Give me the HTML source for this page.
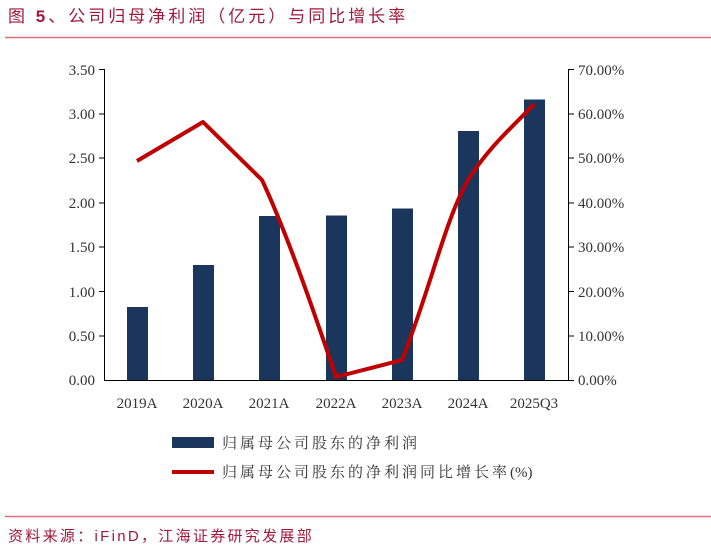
<!DOCTYPE html>
<html><head><meta charset="utf-8"><style>
body{margin:0;background:#fff;width:711px;height:553px;overflow:hidden}
</style></head><body>
<svg width="711" height="553" xmlns="http://www.w3.org/2000/svg" font-family="Liberation Serif, Noto Serif CJK SC, serif">
<text x="8" y="22" font-size="17" fill="#a0193a" letter-spacing="3" font-family="Liberation Sans, Noto Sans CJK SC, sans-serif">图 <tspan font-weight="bold">5</tspan>、公司归母净利润（亿元）与同比增长率</text>
<line x1="5" y1="37.5" x2="711" y2="37.5" stroke="#d9737d" stroke-width="1.5"/>
<g stroke="#000" stroke-width="1">
<line x1="104.5" y1="69" x2="104.5" y2="380"/>
<line x1="568.5" y1="69" x2="568.5" y2="380"/>
<line x1="104" y1="380.5" x2="569" y2="380.5"/>
</g>
<g stroke="#000">
<line x1="99" y1="69.5" x2="104" y2="69.5"/><line x1="99" y1="114" x2="104" y2="114"/><line x1="99" y1="158" x2="104" y2="158"/><line x1="99" y1="203" x2="104" y2="203"/><line x1="99" y1="247" x2="104" y2="247"/><line x1="99" y1="291.5" x2="104" y2="291.5"/><line x1="99" y1="336" x2="104" y2="336"/>
<line x1="569" y1="69.5" x2="574" y2="69.5"/><line x1="569" y1="114" x2="574" y2="114"/><line x1="569" y1="158" x2="574" y2="158"/><line x1="569" y1="203" x2="574" y2="203"/><line x1="569" y1="247" x2="574" y2="247"/><line x1="569" y1="291.5" x2="574" y2="291.5"/><line x1="569" y1="336" x2="574" y2="336"/><line x1="569" y1="380.5" x2="574" y2="380.5"/>
</g>
<g font-size="15" fill="#333" text-anchor="end">
<text x="95" y="75">3.50</text><text x="95" y="119">3.00</text><text x="95" y="163">2.50</text><text x="95" y="208">2.00</text><text x="95" y="252">1.50</text><text x="95" y="297">1.00</text><text x="95" y="341">0.50</text><text x="95" y="385">0.00</text>
</g>
<g font-size="15" fill="#333">
<text x="578" y="75">70.00%</text><text x="578" y="119">60.00%</text><text x="578" y="163">50.00%</text><text x="578" y="208">40.00%</text><text x="578" y="252">30.00%</text><text x="578" y="297">20.00%</text><text x="578" y="341">10.00%</text><text x="578" y="385">0.00%</text>
</g>
<g fill="#1b365d">
<rect x="127" y="307" width="21" height="73"/>
<rect x="193" y="265" width="21" height="115"/>
<rect x="259" y="216" width="21" height="164"/>
<rect x="326" y="215.5" width="21" height="164.5"/>
<rect x="392" y="208.5" width="21" height="171.5"/>
<rect x="458" y="131" width="21" height="249"/>
<rect x="524" y="99.5" width="21" height="280.5"/>
</g>
<path d="M137,161 L203,122 L262,180 C290,240 320,330 336,377 L402,360 C430,290 445,220 468,180 C490,145 515,125 534,104" fill="none" stroke="#c00000" stroke-width="4" stroke-linejoin="round"/>
<g font-size="15" fill="#333" text-anchor="middle">
<text x="137" y="408">2019A</text><text x="203" y="408">2020A</text><text x="269" y="408">2021A</text><text x="336" y="408">2022A</text><text x="402" y="408">2023A</text><text x="468" y="408">2024A</text><text x="534" y="408">2025Q3</text>
</g>
<rect x="172" y="437" width="42" height="11" fill="#1b365d"/>
<text x="222" y="448" font-size="15" fill="#333" letter-spacing="3">归属母公司股东的净利润</text>
<line x1="172" y1="472" x2="214" y2="472" stroke="#c00000" stroke-width="4"/>
<text x="222" y="477" font-size="15" fill="#333" letter-spacing="3">归属母公司股东的净利润同比增长率<tspan letter-spacing="0">(%)</tspan></text>
<line x1="5" y1="516.5" x2="711" y2="516.5" stroke="#d9737d" stroke-width="1.5"/>
<text x="8" y="541" font-size="15" fill="#a0193a" letter-spacing="2.3" font-family="Liberation Sans, Noto Sans CJK SC, sans-serif">资料来源：iFinD，江海证券研究发展部</text>
</svg>
</body></html>
